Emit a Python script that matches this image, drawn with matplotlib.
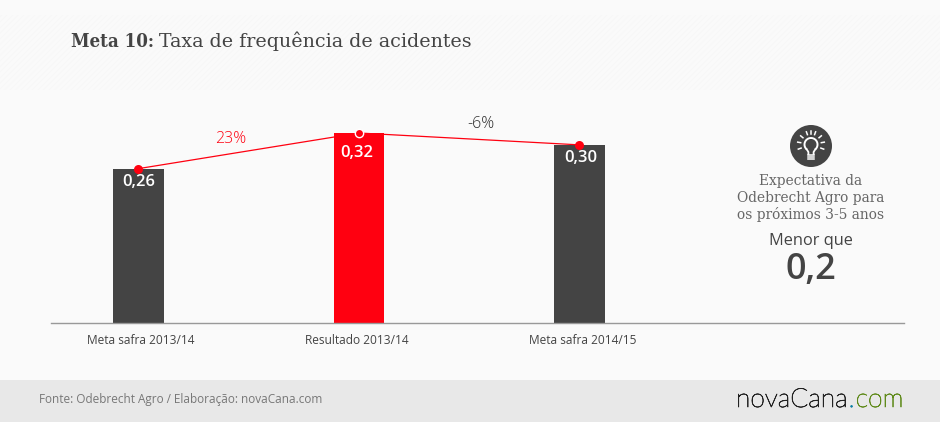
import matplotlib
matplotlib.use("Agg")
import matplotlib.pyplot as plt
import matplotlib.patheffects as pe
from matplotlib.patches import Rectangle, Circle, Arc
from matplotlib.transforms import offset_copy
import numpy as np

categories = ["Meta safra 2013/14", "Resultado 2013/14", "Meta safra 2014/15"]
values = [0.26, 0.32, 0.30]
value_labels = ["0,26", "0,32", "0,30"]
bar_colors = ["#444444", "#ff0010", "#444444"]
change_labels = ["23%", "-6%"]

W, H = 940, 422
SLAB = ["DejaVu Serif"]
SANS = ["Open Sans", "DejaVu Sans"]
DARK = "#444444"
RED = "#ff0010"

fig = plt.figure(figsize=(W / 100, H / 100), dpi=100, facecolor="#fafafa")

# Overlay in pixel coordinates for the page furniture
page = fig.add_axes([0, 0, 1, 1], zorder=0)
page.set_xlim(0, W)
page.set_ylim(H, 0)
page.axis("off")

# Faint diagonal texture behind the header
plt.rcParams["hatch.linewidth"] = 0.6
page.add_patch(Rectangle((0, 15), W, 75, facecolor="none", edgecolor="#f7f7f7", hatch="//////", lw=0))

# Footer band
page.add_patch(Rectangle((0, 380), W, 42, facecolor="#e8e8e8", edgecolor="none"))

# Title in two weights
page.text(71, 47, "Meta 10:", family=SLAB, weight="bold", stretch="condensed", fontsize=13.4,
          color=DARK, va="baseline", ha="left")
page.text(159, 47, "Taxa de frequência de acidentes", family=SLAB, fontsize=13.7,
          color=DARK, va="baseline", ha="left")

# Bar chart
left, right, base, top = 51, 904, 323, 100
ax = fig.add_axes([left / W, 1 - base / H, (right - left) / W, (base - top) / H], zorder=1)
ax.patch.set_alpha(0)
x = np.arange(len(values))
ax.set_xlim(-0.3968, 3.4717)
ax.set_ylim(0, (base - top) / 593.75)
ax.bar(x, values, width=0.231, color=bar_colors, zorder=2)
ax.plot(x, values, color=RED, lw=0.9, zorder=3, clip_on=False)
ax.plot(x[[0, 2]], np.array(values)[[0, 2]], "o", color=RED, ms=6.5, mew=0, zorder=4, clip_on=False)
ax.plot(x[1], values[1], "o", color=RED, ms=6, mec="white", mew=1, zorder=4, clip_on=False)

# Value labels sit at slightly different depths inside each bar
for xi, v, lab, dx, dy in zip(x, values, value_labels, (0, -2, 1), (-13, -20, -13)):
    ax.annotate(lab, (xi, v), xytext=(dx, dy), textcoords="offset pixels", ha="center", va="center",
                color="white", fontsize=12, weight="semibold", family=SANS, zorder=5)

ax.set_xticks(x, categories, family=SANS, fontsize=8.6, color=DARK)
ax.tick_params(axis="x", length=0, pad=8)
for lab, dx in zip(ax.get_xticklabels(), (2.5, -2, 3.5)):
    lab.set_transform(offset_copy(lab.get_transform(), fig=fig, x=dx, y=0, units="dots"))
ax.set_yticks([])
for s in ("top", "left", "right"):
    ax.spines[s].set_visible(False)
ax.spines["bottom"].set_color("#999999")
ax.spines["bottom"].set_linewidth(1)

page.text(231, 139, change_labels[0], color=RED, fontsize=11.5, weight="light", family=SANS, ha="center", va="center")
page.text(481, 124, change_labels[1], color="#2a2a2a", fontsize=11.5, weight="light", family=SANS, ha="center", va="center")

# Light bulb badge
cx, cy = 811, 146
page.add_patch(Circle((cx, cy), 21, facecolor=DARK, edgecolor="none"))
page.add_patch(Arc((cx, cy - 1.5), 13, 13, theta1=130, theta2=50, color="white", lw=1.4))
page.plot([cx - 4.2, cx - 2.6, cx - 2.6], [cy + 3.5, cy + 6, cy + 8], color="white", lw=1.3)
page.plot([cx + 4.2, cx + 2.6, cx + 2.6], [cy + 3.5, cy + 6, cy + 8], color="white", lw=1.3)
for dy in (8.5, 10.5, 12.5):
    page.plot([cx - 3, cx + 3], [cy + dy, cy + dy], color="white", lw=1.1)
for ang in (-170, -140, -110, -90, -70, -40, -10, 20, 160):
    a = np.deg2rad(ang)
    page.plot([cx + 10.5 * np.cos(a), cx + 13.5 * np.cos(a)],
              [cy - 1.5 + 10.5 * np.sin(a), cy - 1.5 + 13.5 * np.sin(a)], color="white", lw=1.1)

# Side note
for y, line in zip((181, 198, 215), ("Expectativa da", "Odebrecht Agro para", "os próximos 3-5 anos")):
    page.text(811, y, line, family=SLAB, fontsize=9.9, color="#666666", ha="center", va="center")
page.text(810.5, 241, "Menor que", family=SANS, fontsize=11.8, color=DARK, ha="center", va="center")
page.text(810.5, 270, "0,2", family=SANS, fontsize=26, weight="semibold", color=DARK, ha="center", va="center")

# Footer text and wordmark
page.text(39, 400, "Fonte: Odebrecht Agro / Elaboração: novaCana.com", family=SANS, fontsize=8.5,
          color="#777777", ha="left", va="center")
logo_kw = dict(family=["Lato", "DejaVu Sans"], weight="light", fontsize=19, va="center", ha="left")
cursor = 736
for piece, col in (("novaCana", "#222222"), (".", "#0a7ea4"), ("com", "#5f8a1a")):
    t = page.text(cursor, 400, piece, color=col, **logo_kw)
    t.set_path_effects([pe.withStroke(linewidth=0.5, foreground=col)])
    fig.canvas.draw()
    cursor = t.get_window_extent().x1 + 1

fig.savefig("out.png", dpi=100, facecolor=fig.get_facecolor())
